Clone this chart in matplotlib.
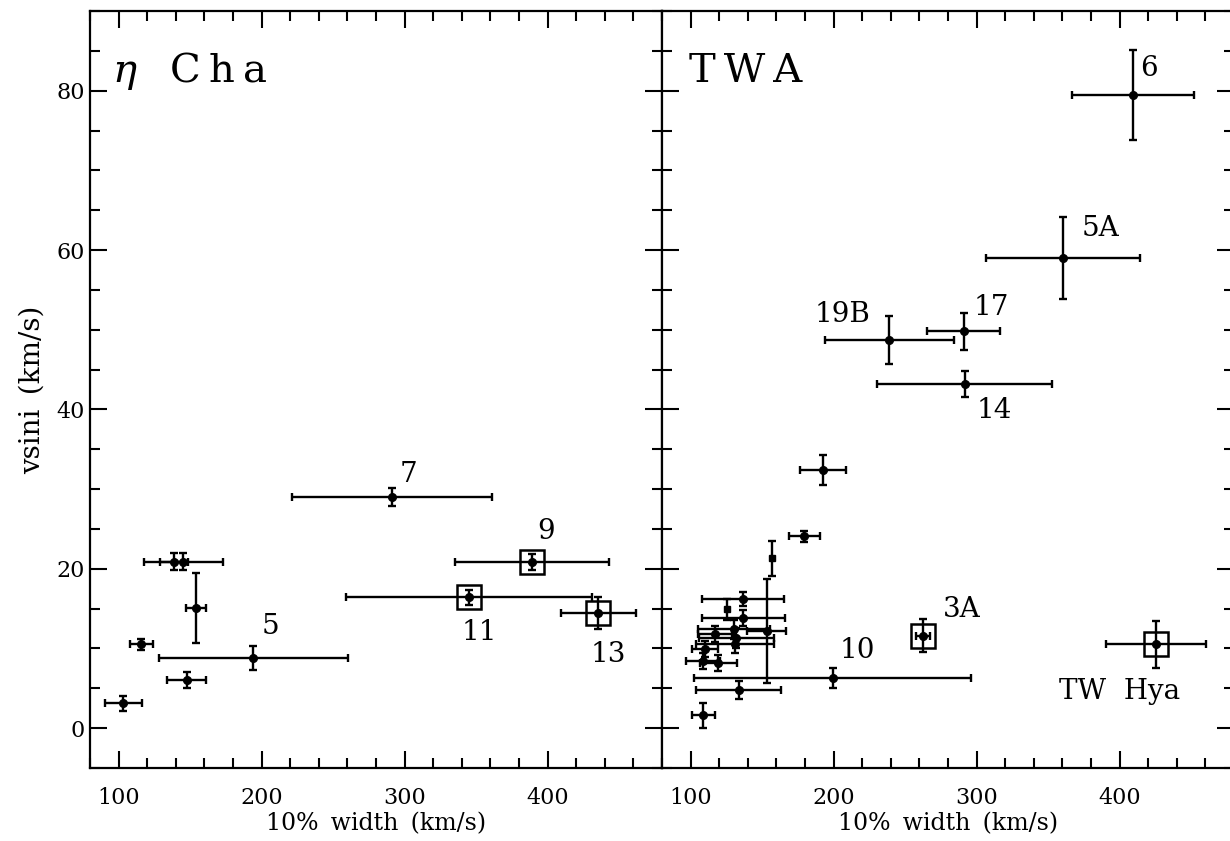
import matplotlib
matplotlib.use("Agg")
import matplotlib.pyplot as plt
from matplotlib.ticker import MultipleLocator

plt.rcParams['font.family'] = ['DejaVu Serif', 'DejaVu Sans']
plt.rcParams['mathtext.fontset'] = 'dejavuserif'

# eta Cha: 10% width, error, vsini, error
cha_w = [103.3, 115.7, 147.6, 194.2, 154.1, 138.7, 145.3, 291.4, 388.9, 345.3, 435.5]
cha_werr = [13, 8, 13.5, 66, 7.3, 9.7, 27.7, 70, 54, 86, 26]
cha_v = [3.1, 10.5, 6.0, 8.8, 15.1, 20.9, 20.9, 29.0, 20.8, 16.4, 14.5]
cha_verr = [0.9, 0.65, 1.0, 1.5, 4.35, 1.1, 1.1, 1.1, 1.0, 1.0, 2.0]
cha_box = [0, 0, 0, 0, 0, 0, 0, 0, 1, 1, 1]
cha_names = ["", "", "", "5", "", "", "", "7", "9", "11", "13"]

# TWA
twa_w = [108.9, 133.6, 108.9, 119.4, 110.0, 117.0, 131.0, 132.0, 130.5, 136.9, 136.9,
         153.2, 179.5, 192.6, 199.4, 262.7, 239.1, 290.9, 291.7, 360.4, 409.2, 425.5]
twa_werr = [8, 29.6, 12, 13, 9.3, 12, 27.5, 26, 25, 29, 28.6,
            13.5, 11, 16, 97, 4.9, 45.3, 25.5, 61.4, 54, 42.6, 35]
twa_v = [1.6, 4.75, 8.4, 8.2, 9.9, 11.8, 10.5, 11.3, 12.4, 13.8, 16.2,
         12.2, 24.1, 32.4, 6.3, 11.6, 48.75, 49.8, 43.2, 59.0, 79.46, 10.5]
twa_verr = [1.6, 1.15, 1.0, 1.0, 1.0, 1.0, 1.1, 1.3, 1.2, 1.0, 0.85,
            6.5, 0.7, 1.9, 1.2, 2.1, 3.0, 2.3, 1.6, 5.1, 5.7, 3.0]
twa_box = [0] * 15 + [1] + [0] * 5 + [1]
twa_names = [""] * 14 + ["10", "3A", "19B", "17", "14", "5A", "6", "TW  Hya"]

# stars plotted with small filled squares
sq_w = [125.2, 157.2]
sq_v = [14.9, 21.3]
sq_verr = [1.35, 2.2]

# label offsets (points)
cha_off = {"5": (12, 23), "7": (12, 16), "9": (10, 22), "11": (7, -25), "13": (7, -30)}
twa_off = {"6": (12, 19), "5A": (27, 21), "17": (20, 17), "19B": (-34, 18), "14": (21, -19),
           "10": (18, 20), "3A": (28, 19), "TW  Hya": (-26, -34)}

fig = plt.figure(figsize=(12.3, 8.41), dpi=100)
ax1 = fig.add_axes([0.0732, 0.0868, 0.465, 0.9001])
ax2 = fig.add_axes([0.5382, 0.0868, 0.465, 0.9001])

ebkw = dict(fmt='o', color='k', ms=5.5, capsize=2.6, elinewidth=1.7, capthick=1.7)


def panel(ax, w, werr, v, verr, box, names, off, title, tx):
    ax.errorbar(w, v, xerr=werr, yerr=verr, **ebkw)
    for xi, yi, b, n in zip(w, v, box, names):
        if b:
            ax.plot(xi, yi, 's', mfc='none', mec='k', ms=17, mew=1.8)
        if n:
            ax.annotate(n, (xi, yi), xytext=off[n], textcoords='offset points',
                        ha='center', va='center', fontsize=20)
    ax.text(tx, 0.906, title, transform=ax.transAxes, fontsize=29, va='baseline')
    ax.set_xlim(80, 480)
    ax.set_ylim(-5, 90)
    ax.xaxis.set_major_locator(MultipleLocator(100))
    ax.xaxis.set_minor_locator(MultipleLocator(20))
    ax.yaxis.set_major_locator(MultipleLocator(20))
    ax.yaxis.set_minor_locator(MultipleLocator(5))
    ax.tick_params(which='both', direction='in', top=True, right=True, width=1.5,
                   labelsize=16)
    ax.tick_params(which='major', length=12.5)
    ax.tick_params(which='minor', length=7.5)
    ax.tick_params(axis='x', pad=14)
    for s in ax.spines.values():
        s.set_linewidth(1.6)
    ax.set_xlabel("10%\u2009 width \u2009(km/s)", fontsize=17, labelpad=2)


panel(ax1, cha_w, cha_werr, cha_v, cha_verr, cha_box, cha_names, cha_off,
      "$\\eta$\u2009  C\u2009h\u2009a", 0.038)
panel(ax2, twa_w, twa_werr, twa_v, twa_verr, twa_box, twa_names, twa_off,
      "T\u2009W\u2009A", 0.047)
ax2.errorbar(sq_w, sq_v, yerr=sq_verr, fmt='s', color='k', ms=5, capsize=2.6,
             elinewidth=1.7, capthick=1.7)
ax2.tick_params(labelleft=False)
ax1.set_ylabel("vsini \u2009(km/s)", fontsize=20, labelpad=8)

fig.savefig("out.png", dpi=100)
